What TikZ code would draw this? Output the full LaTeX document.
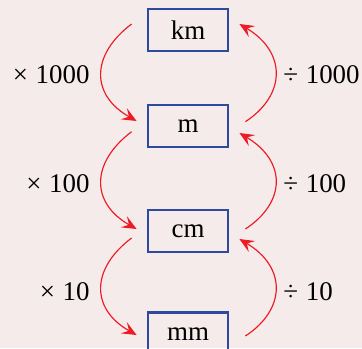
\documentclass[tikz,border=0pt]{standalone}
\usepackage{fontspec}
\setmainfont{Liberation Serif}
\usetikzlibrary{arrows.meta,calc}
\definecolor{bgpink}{RGB}{245,235,235}
\definecolor{boxblue}{RGB}{46,74,156}
\definecolor{arrred}{RGB}{237,28,36}
\tikzset{
  unitbox/.style={draw=boxblue,line width=1.2pt,minimum width=1.2cm,minimum height=0.63cm,inner sep=0pt},
  convarrow/.style={draw=arrred,line width=0.5pt,-{Stealth[length=2.2mm,width=1.9mm,inset=0.9mm]}},
  factor/.style={inner sep=0pt}
}
\begin{document}
\begin{tikzpicture}[x=0.015cm,y=-0.015cm,font=\fontsize{11.5}{13}\selectfont]
\fill[bgpink] (0,0) rectangle (362,348);
\clip (0,0) rectangle (362,348);
\node[unitbox] (km) at (188,30) {km};
\node[unitbox] (m) at (188,126) {m};
\node[unitbox] (cm) at (188,231) {cm};
\node[unitbox] (mm) at (188,333.7) {mm};
\coordinate (l1a) at ($(km.west)+(-15,-6)$);
\coordinate (l1b) at ($(m.west)+(-10,-5)$);
\coordinate (l2a) at ($(m.west)+(-15,5.7)$);
\coordinate (l2b) at ($(cm.west)+(-10,-2)$);
\coordinate (l3a) at ($(cm.west)+(-15,7)$);
\coordinate (l3b) at ($(mm.west)+(-10,1.3)$);
\coordinate (r1a) at ($(m.east)+(16,-4.3)$);
\coordinate (r1b) at ($(km.east)+(10,-6)$);
\coordinate (r2a) at ($(cm.east)+(16,-2)$);
\coordinate (r2b) at ($(m.east)+(10,7)$);
\coordinate (r3a) at ($(mm.east)+(16,2.3)$);
\coordinate (r3b) at ($(cm.east)+(10,8)$);
\draw[convarrow] (l1a) .. controls +(-41,31) and +(-46,-26) .. (l1b);
\draw[convarrow] (l2a) .. controls +(-41,31) and +(-46,-26) .. (l2b);
\draw[convarrow] (l3a) .. controls +(-41,31) and +(-46,-26) .. (l3b);
\draw[convarrow] (r1a) .. controls +(41,-27) and +(47,28) .. (r1b);
\draw[convarrow] (r2a) .. controls +(41,-27) and +(47,28) .. (r2b);
\draw[convarrow] (r3a) .. controls +(41,-27) and +(47,28) .. (r3b);
\node[factor,anchor=east] (mul1000) at (90,75) {×\hspace{0.28em}1000};
\node[factor,anchor=east] (mul100) at (90,184) {×\hspace{0.28em}100};
\node[factor,anchor=east] (mul10) at (90,291.5) {×\hspace{0.28em}10};
\node[factor,anchor=west] (div1000) at (283,75) {÷\hspace{0.28em}1000};
\node[factor,anchor=west] (div100) at (283,184) {÷\hspace{0.28em}100};
\node[factor,anchor=west] (div10) at (283,291.5) {÷\hspace{0.28em}10};
\end{tikzpicture}
\end{document}
